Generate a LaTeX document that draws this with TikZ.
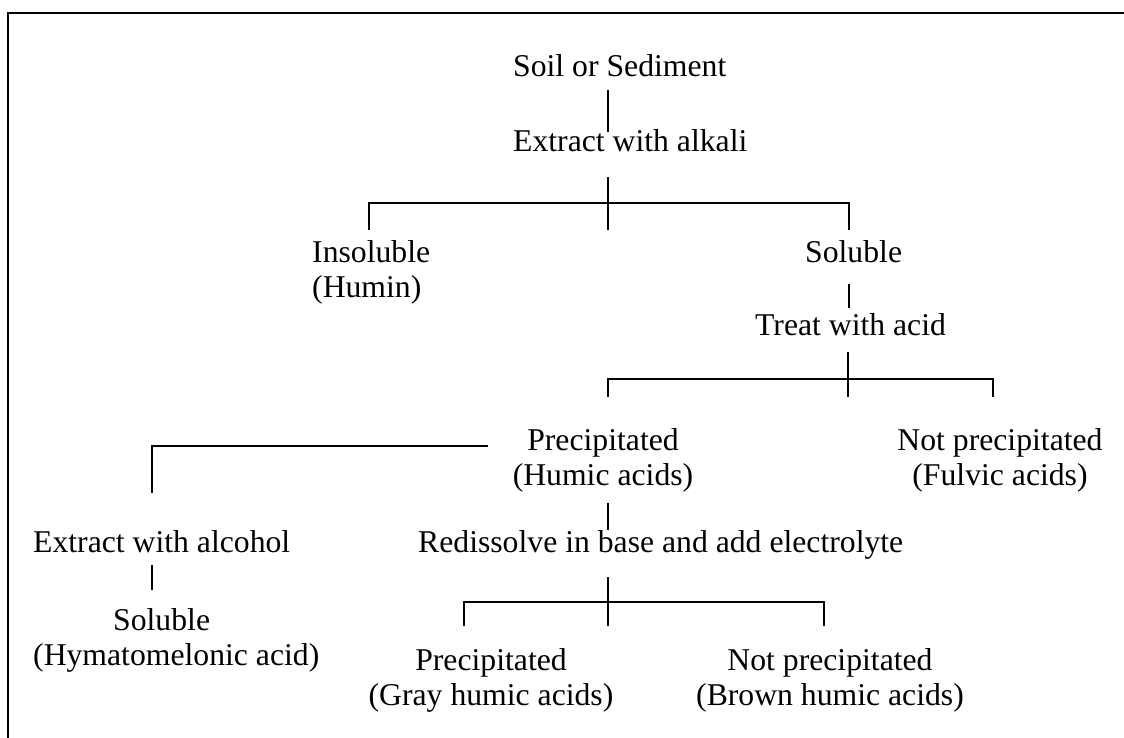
\documentclass[tikz,border=0pt]{standalone}
\usepackage{fontspec}
\setmainfont{Liberation Serif}
\begin{document}
\begin{tikzpicture}[x=1pt,y=-1pt,
  txt/.style={inner sep=0pt, font=\fontsize{31.7}{35}\selectfont},
  ln/.style={line width=1.8pt},
  frame/.style={line width=2.4pt}]
\useasboundingbox (0,0) rectangle (1124,738);
\draw[frame] (1124,13) -- (8,13) -- (8,738);
% texts
\node[txt,anchor=base west] (soil) at (513,77) {Soil or Sediment};
\node[txt,anchor=base west] (alkali) at (513,152) {Extract with alkali};
\node[txt,anchor=base west] (insol) at (312,262) {Insoluble};
\node[txt,anchor=base west] (humin) at (312,297) {(Humin)};
\node[txt,anchor=base west] (sol) at (805,262) {Soluble};
\node[txt,anchor=base west] (acid) at (755,335) {Treat with acid};
\node[txt,anchor=base] (prec) at (603,450) {Precipitated};
\node[txt,anchor=base] (humic) at (603,485) {(Humic acids)};
\node[txt,anchor=base] (notprec) at (1000,450) {Not precipitated};
\node[txt,anchor=base] (fulvic) at (1000,485) {(Fulvic acids)};
\node[txt,anchor=base west] (alcohol) at (33,552) {Extract with alcohol};
\node[txt,anchor=base west] (redis) at (418,552) {Redissolve in base and add electrolyte};
\node[txt,anchor=base west] (sol2) at (113,630) {Soluble};
\node[txt,anchor=base west] (hymat) at (33,665) {(Hymatomelonic acid)};
\node[txt,anchor=base] (prec2) at (491,670) {Precipitated};
\node[txt,anchor=base] (gray) at (491,705) {(Gray humic acids)};
\node[txt,anchor=base] (notprec2) at (830,670) {Not precipitated};
\node[txt,anchor=base] (brown) at (830,705) {(Brown humic acids)};
% junction coordinates
\coordinate (a1) at (608,90);  \coordinate (a2) at (608,132);
\coordinate (b1) at (608,177); \coordinate (b2) at (608,230);
\coordinate (bl) at (369,230); \coordinate (br) at (849,230);
\coordinate (c1) at (849,284); \coordinate (c2) at (849,308);
\coordinate (d1) at (848,352); \coordinate (d2) at (848,397);
\coordinate (dl) at (608,397); \coordinate (dr) at (993,397);
\coordinate (e1) at (488,446); \coordinate (e2) at (152,493);
\coordinate (f1) at (608,503); \coordinate (f2) at (608,530);
\coordinate (g1) at (152,565); \coordinate (g2) at (152,590);
\coordinate (h1) at (608,577); \coordinate (h2) at (608,626);
\coordinate (hl) at (464,626); \coordinate (hr) at (824,626);
% connectors
\draw[ln] (a1) -- (a2);
\draw[ln] (b1) -- (b2);
\draw[ln] (bl) |- (608,203) -| (br);
\draw[ln] (c1) -- (c2);
\draw[ln] (d1) -- (d2);
\draw[ln] (dl) |- (848,379) -| (dr);
\draw[ln] (e1) -| (e2);
\draw[ln] (f1) -- (f2);
\draw[ln] (g1) -- (g2);
\draw[ln] (h1) -- (h2);
\draw[ln] (hl) |- (608,602) -| (hr);
\end{tikzpicture}
\end{document}
